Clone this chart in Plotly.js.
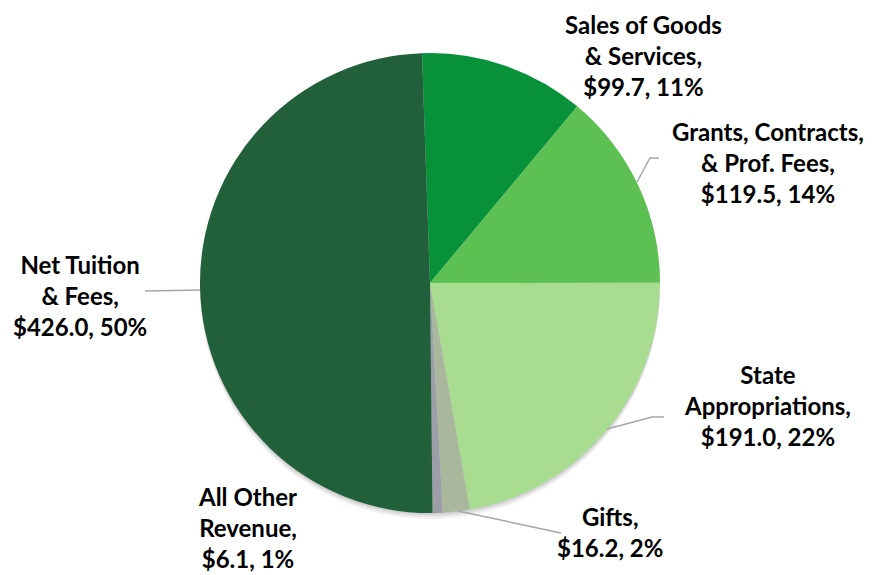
<!DOCTYPE html>
<html>
<head>
<meta charset="utf-8">
<script src="https://cdn.plot.ly/plotly-3.0.1.min.js"></script>
<style>html,body{margin:0;padding:0;background:#fff;}#chart{width:880px;height:575px;}</style>
</head>
<body>
<div id="chart"></div>
<script>
// Data (in $ millions), clockwise from 12 o'clock
const categories = ["Sales of Goods & Services", "Grants, Contracts, & Prof. Fees", "State Appropriations", "Gifts", "All Other Revenue", "Net Tuition & Fees"];
const labelNames = ["Sales of Goods<br>& Services,", "Grants, Contracts,<br>& Prof. Fees,", "State<br>Appropriations,", "Gifts,", "All Other<br>Revenue,", "Net Tuition<br>& Fees,"];
const values = [99.7, 119.5, 191.0, 16.2, 6.1, 426.0];
const percentLabels = ["11%", "14%", "22%", "2%", "1%", "50%"];
const colors = ["#07923A", "#5DC052", "#A8DC91", "#A9B89C", "#9C9FA8", "#21603B"];

const W = 880, H = 575;
const px = x => x / W;
const py = y => 1 - y / H;

// pie geometry in pixels
const cx = 430, cy = 283, r = 230;

// label placement (pixel centers)
const labelPos = [[643, 55], [768, 162], [767, 405], [610, 532], [247, 527], [80, 295]];
// leader lines (pixel polylines)
const leaders = [
  null,
  [[637, 182], [650, 158], [659, 158]],
  [[607, 429], [652, 417], [664, 417]],
  [[458, 511], [561, 533]],
  null,
  [[145, 291], [200, 290]]
];

const annotations = categories.map((c, i) => ({
  xref: 'paper', yref: 'paper',
  x: px(labelPos[i][0]), y: py(labelPos[i][1]),
  xanchor: 'center', yanchor: 'middle', align: 'center',
  showarrow: false,
  text: labelNames[i] + '<br>$' + values[i].toFixed(1) + ', ' + percentLabels[i],
  font: {family: 'Lato, "Open Sans", sans-serif', size: 24, color: '#000000', weight: 'bold'}
}));

const shapes = [];
// soft shadow under the pie
[[6, 0.05], [4, 0.06], [2, 0.08]].forEach(([off, op]) => {
  shapes.push({
    type: 'circle', xref: 'paper', yref: 'paper', layer: 'below',
    x0: px(cx - r), x1: px(cx + r), y0: py(cy + r + off), y1: py(cy - r + off),
    fillcolor: 'rgba(0,0,0,' + op + ')', line: {width: 0}
  });
});
leaders.forEach(pts => {
  if (!pts) return;
  let d = pts.map((p, k) => (k ? 'L' : 'M') + px(p[0]) + ',' + py(p[1])).join(' ');
  shapes.push({type: 'path', xref: 'paper', yref: 'paper', path: d, line: {color: '#A6A6A6', width: 1.5}});
});

const trace = {
  type: 'pie',
  labels: categories,
  values: values,
  sort: false,
  direction: 'clockwise',
  rotation: -2,
  textinfo: 'none',
  hoverinfo: 'label+value+percent',
  marker: {colors: colors, line: {width: 0}},
  domain: {x: [px(cx - r), px(cx + r)], y: [py(cy + r), py(cy - r)]},
  showlegend: false
};

Plotly.newPlot('chart', [trace], {
  width: W, height: H,
  margin: {l: 0, r: 0, t: 0, b: 0},
  paper_bgcolor: '#ffffff',
  showlegend: false,
  annotations: annotations,
  shapes: shapes
}, {displayModeBar: false, staticPlot: true});
</script>
</body>
</html>
